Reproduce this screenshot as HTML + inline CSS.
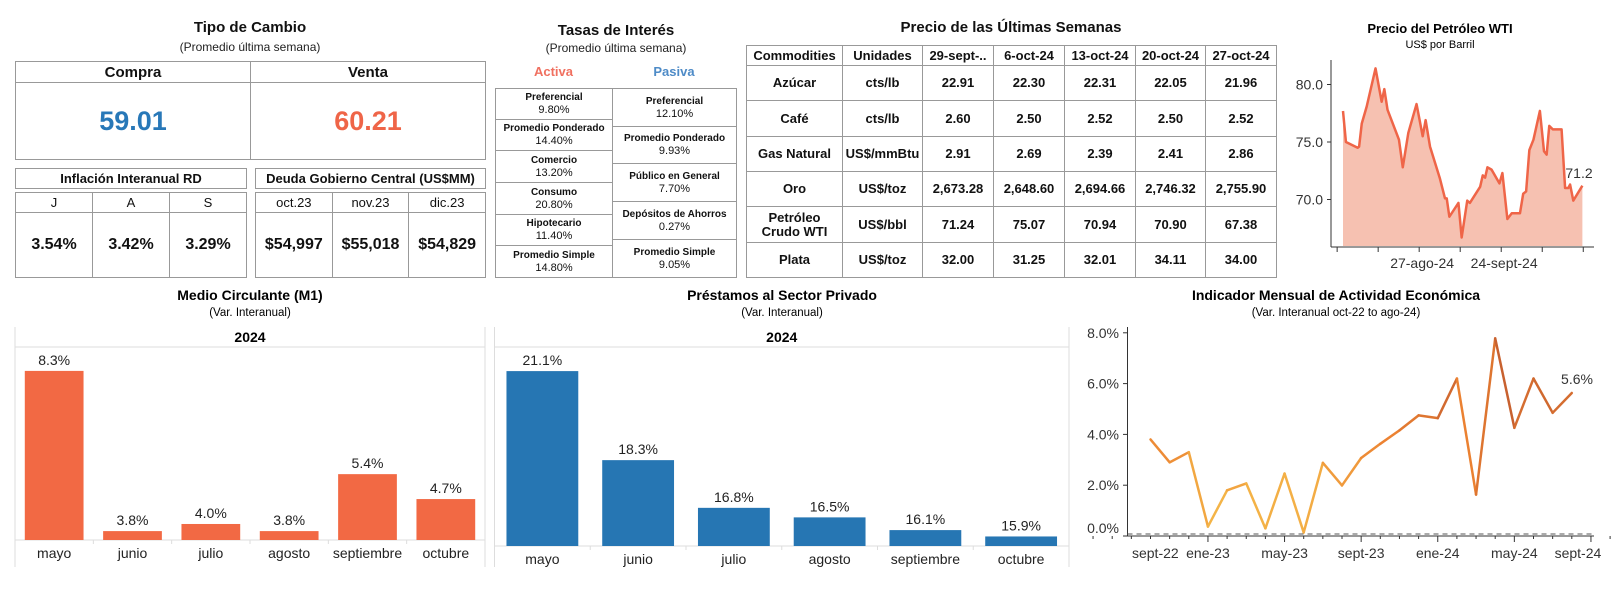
<!DOCTYPE html>
<html><head><meta charset="utf-8">
<style>
body{margin:0;width:1623px;height:594px;background:#fff;font-family:"Liberation Sans",Arial,sans-serif;color:#111;position:relative;overflow:hidden}
.abs{position:absolute}
.t{font-weight:bold;font-size:15px;text-align:center}
.s{font-size:12px;text-align:center;color:#222}
table{border-collapse:collapse;position:absolute;table-layout:fixed}
td{border:1px solid #999;text-align:center;vertical-align:middle;padding:0}
.ct td{font-weight:bold;font-size:13px;line-height:14px}
.rt td{font-size:11px;line-height:13px}
.rt b{font-size:10px}
svg text{font-family:"Liberation Sans",Arial,sans-serif}
</style></head><body>

<div class="abs t" style="left:15px;top:19px;width:470px">Tipo de Cambio</div>
<div class="abs s" style="left:15px;top:40px;width:470px">(Promedio última semana)</div>
<table style="left:15px;top:61px;width:471px">
<tr style="height:21px"><td style="font-weight:bold;font-size:15px">Compra</td><td style="font-weight:bold;font-size:15px">Venta</td></tr>
<tr style="height:77px"><td style="font-weight:bold;font-size:27px;color:#2878b8">59.01</td><td style="font-weight:bold;font-size:27px;color:#ef6548">60.21</td></tr>
</table>

<table style="left:15px;top:168px;width:232px"><tr style="height:20px"><td style="font-weight:bold;font-size:13px">Inflación Interanual RD</td></tr></table>
<table style="left:15px;top:192px;width:232px">
<tr style="height:20px;font-size:13px"><td>J</td><td>A</td><td>S</td></tr>
<tr style="height:65px;font-size:16px;font-weight:bold"><td>3.54%</td><td>3.42%</td><td>3.29%</td></tr></table>

<table style="left:255px;top:168px;width:231px"><tr style="height:20px"><td style="font-weight:bold;font-size:13px">Deuda Gobierno Central (US$MM)</td></tr></table>
<table style="left:255px;top:192px;width:231px">
<tr style="height:20px;font-size:13px"><td>oct.23</td><td>nov.23</td><td>dic.23</td></tr>
<tr style="height:65px;font-size:16px;font-weight:bold"><td>$54,997</td><td>$55,018</td><td>$54,829</td></tr></table>

<div class="abs t" style="left:495px;top:22px;width:242px">Tasas de Interés</div>
<div class="abs s" style="left:495px;top:41px;width:242px">(Promedio última semana)</div>
<div class="abs" style="left:495px;top:64px;width:117px;text-align:center;font-weight:bold;font-size:13px;color:#f07060">Activa</div>
<div class="abs" style="left:612px;top:64px;width:124px;text-align:center;font-weight:bold;font-size:13px;color:#4e8bc7">Pasiva</div>
<table class="rt" style="left:495px;top:88px;width:118px">
<tr style="height:31px"><td><b>Preferencial</b><br>9.80%</td></tr>
<tr style="height:31px"><td><b>Promedio Ponderado</b><br>14.40%</td></tr>
<tr style="height:32px"><td><b>Comercio</b><br>13.20%</td></tr>
<tr style="height:32px"><td><b>Consumo</b><br>20.80%</td></tr>
<tr style="height:31px"><td><b>Hipotecario</b><br>11.40%</td></tr>
<tr style="height:32px"><td><b>Promedio Simple</b><br>14.80%</td></tr></table>
<table class="rt" style="left:612px;top:88px;width:125px">
<tr style="height:38px"><td><b>Preferencial</b><br>12.10%</td></tr>
<tr style="height:37px"><td><b>Promedio Ponderado</b><br>9.93%</td></tr>
<tr style="height:38px"><td><b>Público en General</b><br>7.70%</td></tr>
<tr style="height:38px"><td><b>Depósitos de Ahorros</b><br>0.27%</td></tr>
<tr style="height:38px"><td><b>Promedio Simple</b><br>9.05%</td></tr></table>

<div class="abs t" style="left:746px;top:19px;width:530px">Precio de las Últimas Semanas</div>
<table class="ct" style="left:746px;top:45px;width:530px">
<colgroup><col style="width:96px"><col style="width:80px"><col style="width:71px"><col style="width:71px"><col style="width:71px"><col style="width:70px"><col style="width:71px"></colgroup>
<tr style="height:20px"><td>Commodities</td><td>Unidades</td><td>29-sept-..</td><td>6-oct-24</td><td>13-oct-24</td><td>20-oct-24</td><td>27-oct-24</td></tr>
<tr style="height:35px"><td>Azúcar</td><td>cts/lb</td><td>22.91</td><td>22.30</td><td>22.31</td><td>22.05</td><td>21.96</td></tr>
<tr style="height:36px"><td>Café</td><td>cts/lb</td><td>2.60</td><td>2.50</td><td>2.52</td><td>2.50</td><td>2.52</td></tr>
<tr style="height:35px"><td>Gas Natural</td><td>US$/mmBtu</td><td>2.91</td><td>2.69</td><td>2.39</td><td>2.41</td><td>2.86</td></tr>
<tr style="height:35px"><td>Oro</td><td>US$/toz</td><td>2,673.28</td><td>2,648.60</td><td>2,694.66</td><td>2,746.32</td><td>2,755.90</td></tr>
<tr style="height:36px"><td>Petróleo<br>Crudo WTI</td><td>US$/bbl</td><td>71.24</td><td>75.07</td><td>70.94</td><td>70.90</td><td>67.38</td></tr>
<tr style="height:35px"><td>Plata</td><td>US$/toz</td><td>32.00</td><td>31.25</td><td>32.01</td><td>34.11</td><td>34.00</td></tr>
</table>

<svg id="ch" class="abs" style="left:0;top:0" width="1623" height="594">
<text x="1440" y="33" text-anchor="middle" font-size="13" font-weight="bold">Precio del Petróleo WTI</text>
<text x="1440" y="48" text-anchor="middle" font-size="11">US$ por Barril</text>
<text x="250" y="300" text-anchor="middle" font-size="14" font-weight="bold">Medio Circulante (M1)</text>
<text x="250" y="316" text-anchor="middle" font-size="11.5">(Var. Interanual)</text>
<text x="782" y="300" text-anchor="middle" font-size="14" font-weight="bold">Préstamos al Sector Privado</text>
<text x="782" y="316" text-anchor="middle" font-size="11.5">(Var. Interanual)</text>
<text x="1336" y="300" text-anchor="middle" font-size="14" font-weight="bold">Indicador Mensual de Actividad Económica</text>
<text x="1336" y="316" text-anchor="middle" font-size="11.5">(Var. Interanual oct-22 to ago-24)</text>
</svg>

<script>
// WTI data
const wtiDays=[0,1,5,5.5,6.4,8.1,11.1,13.2,14.1,15.2,19.1,20.4,22.3,25.1,27.2,28.2,29.7,33.1,34.8,35.4,36.3,39.4,40.5,42.4,43.3,46.8,47.7,48.5,49.3,50.7,53.4,54.4,56.1,57.6,60.4,61.5,62.5,63.6,65,67.2,68.6,69.5,70.4,71.6,74.6,75.8,76.9,77.5,78.6,81.7];
const wtiValues=[77.7,75.0,74.5,74.6,76.6,78.1,81.4,78.5,79.6,77.8,75.2,72.8,75.8,78.3,75.5,76.9,74.6,71.8,70.1,70.1,68.5,69.7,66.7,69.9,69.7,71.1,72.1,71.9,72.8,72.6,71.4,72.3,68.3,68.8,68.8,70.5,70.7,74.3,75.2,77.7,74.2,73.9,76.4,76.1,76.1,71.0,71.0,71.3,69.9,71.2];
const wtiTicks=[70,75,80];
const wtiXLabels=["27-ago-24","24-sept-24"];
const wtiXLabelDays=[27,55];
// IMAE
const imaeMonths=["oct-22","nov-22","dic-22","ene-23","feb-23","mar-23","abr-23","may-23","jun-23","jul-23","ago-23","sept-23","oct-23","nov-23","dic-23","ene-24","feb-24","mar-24","abr-24","may-24","jun-24","jul-24","ago-24"];
const imaeValues=[3.8,2.9,3.3,0.37,1.8,2.07,0.3,2.46,0.14,2.88,1.99,3.07,3.63,4.16,4.75,4.64,6.2,1.63,7.78,4.26,6.2,4.85,5.63];
const imaeTicks=[0,2,4,6,8];
const imaeXLabels=["sept-22","ene-23","may-23","sept-23","ene-24","may-24","sept-24"];
const imaeXLabelIdx=[-1,3,7,11,15,19,23];
// Bars
const barCats=["mayo","junio","julio","agosto","septiembre","octubre"];
const m1Values=[8.3,3.8,4.0,3.8,5.4,4.7];
const prestValues=[21.1,18.3,16.8,16.5,16.1,15.9];

const svg=document.getElementById('ch');
const NS='http://www.w3.org/2000/svg';
function mk(tag,attrs,txt){const e=document.createElementNS(NS,tag);for(const k in attrs)e.setAttribute(k,attrs[k]);if(txt!==undefined)e.textContent=txt;svg.appendChild(e);return e;}

// ---- WTI
const wx=d=>1343+d*2.93, wy=v=>142-(v-75)*11.5;
let pts=wtiDays.map((d,i)=>wx(d)+','+wy(wtiValues[i]));
let area=mk('polygon',{points:wx(wtiDays[0])+',246 '+pts.join(' ')+' '+wx(wtiDays[wtiDays.length-1])+',246',fill:'#f6c1b1'});


let wl=mk('polyline',{points:pts.join(' '),fill:'none',stroke:'#ef6548','stroke-width':2.5,'stroke-linejoin':'round'});


mk('line',{x1:1331,y1:60,x2:1331,y2:247,stroke:'#333'});
mk('line',{x1:1331,y1:247,x2:1594,y2:247,stroke:'#333'});
wtiTicks.forEach(v=>{mk('line',{x1:1327,x2:1331,y1:wy(v),y2:wy(v),stroke:'#333'});
 const t=mk('text',{x:1323,y:wy(v)+5,'text-anchor':'end','font-size':14,fill:'#333'},v.toFixed(1));
 
 });
for(let d=-2;d<=85;d+=14)mk('line',{x1:wx(d),x2:wx(d),y1:247,y2:252,stroke:'#333'});
wtiXLabels.forEach((l,i)=>{const t=mk('text',{x:wx(wtiXLabelDays[i]),y:268,'text-anchor':'middle','font-size':14,fill:'#333'},l);
 
 });
const wlab=mk('text',{x:1579,y:178,'text-anchor':'middle','font-size':14,fill:'#333'},wtiValues[wtiValues.length-1].toFixed(1));



// ---- IMAE
const ix=i=>1150.5+i*19.15, iy=v=>536-v*25.4;
mk('line',{x1:1127.5,y1:327,x2:1127.5,y2:536,stroke:'#333'});
mk('line',{x1:1127.5,y1:536,x2:1594,y2:536,stroke:'#333'});
mk('line',{x1:1127.5,y1:534,x2:1594,y2:534,stroke:'#555','stroke-dasharray':'5,4'});
imaeTicks.forEach(v=>{mk('line',{x1:1123,x2:1127.5,y1:iy(v),y2:iy(v),stroke:'#333'});
 const t=mk('text',{x:1119,y:Math.min(iy(v),528)+5,'text-anchor':'end','font-size':14,fill:'#333'},v.toFixed(1)+'%');
 
 });
for(let i=-3;i<=24;i++)mk('line',{x1:ix(i),x2:ix(i),y1:536,y2:(i%4==3?542:539),stroke:'#333'});
imaeXLabels.forEach((l,i)=>{let x=ix(imaeXLabelIdx[i]);if(i==0)x+=24;if(i==6)x-=13;
 const t=mk('text',{x:x,y:558,'text-anchor':'middle','font-size':14,fill:'#333'},l);
 
 });
function col(v){const t=Math.max(0,Math.min(1,v/7.8));
 const a=[248,200,80],b=[236,130,50],c=[170,70,45];let r,g,bb;
 if(t<0.5){const u=t/0.5;r=a[0]+(b[0]-a[0])*u;g=a[1]+(b[1]-a[1])*u;bb=a[2]+(b[2]-a[2])*u;}
 else{const u=(t-0.5)/0.5;r=b[0]+(c[0]-b[0])*u;g=b[1]+(c[1]-b[1])*u;bb=b[2]+(c[2]-b[2])*u;}
 return `rgb(${r|0},${g|0},${bb|0})`;}
for(let i=0;i<imaeValues.length-1;i++){
 const s=mk('line',{x1:ix(i),y1:iy(imaeValues[i]),x2:ix(i+1),y2:iy(imaeValues[i+1]),stroke:col((imaeValues[i]+imaeValues[i+1])/2),'stroke-width':2.5,'stroke-linecap':'round'});
 
 }
const il=mk('text',{x:1577,y:384,'text-anchor':'middle','font-size':14,fill:'#333'},imaeValues[imaeValues.length-1].toFixed(1)+'%');



// ---- Bar charts
function bars(vals,left,right,base,vmin,scale,color,name){
 mk('line',{x1:left,y1:327,x2:left,y2:567,stroke:'#ddd'});
 mk('line',{x1:right,y1:327,x2:right,y2:567,stroke:'#ddd'});
 mk('line',{x1:left,y1:347,x2:right,y2:347,stroke:'#ddd'});
 mk('line',{x1:left,y1:base,x2:right,y2:base,stroke:'#ddd'});
 const h=mk('text',{x:(left+right)/2,y:342,'text-anchor':'middle','font-size':14,'font-weight':'bold'},'2024');
 
 
 const step=(right-left)/vals.length, bw=step*0.75;
 vals.forEach((v,i)=>{const cx=left+step*(i+0.5), y=base-(v-vmin)*scale;
  if(i>0)mk('line',{x1:left+step*i,x2:left+step*i,y1:base,y2:base+4,stroke:'#ddd'});
  const r=mk('rect',{x:cx-bw/2,y:y,width:bw,height:base-y,fill:color});
  
  
  const t=mk('text',{x:cx,y:y-6,'text-anchor':'middle','font-size':14,fill:'#222'},v.toFixed(1)+'%');
  
  
  const c=mk('text',{x:cx,y:base+18,'text-anchor':'middle','font-size':14,fill:'#222'},barCats[i]);
  
  });
}
bars(m1Values,15,485,540,3.55,35.6,'#f26944','m1');
bars(prestValues,494.5,1069,546,15.6,31.8,'#2676b3','prestamos');
</script>
</body></html>
